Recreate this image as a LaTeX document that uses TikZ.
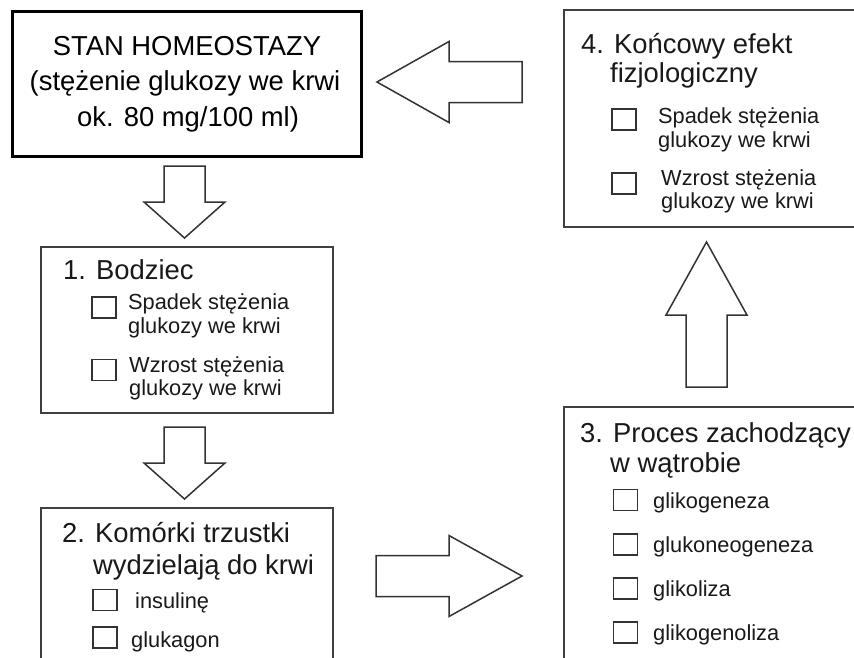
\documentclass[tikz,border=0pt]{standalone}
\usepackage{fontspec}
\setmainfont{Liberation Sans}
\usepackage{tikz}
\usetikzlibrary{calc}

\newcommand{\headfont}{\fontsize{27.4}{29.5}\selectfont}
\newcommand{\itemfont}{\fontsize{21.8}{24}\selectfont}

% fat outlined arrow: tail, tip, head length
\newcommand{\blockarrow}[3]{%
  \coordinate (hb) at ($(#2)!#3!(#1)$);
  \draw[arrowline] ($(#1)!20.5pt!90:(#2)$) -- ($(hb)!20.5pt!90:(#2)$)
    -- ($(hb)!40.5pt!90:(#2)$) -- (#2) -- ($(hb)!40.5pt!-90:(#2)$)
    -- ($(hb)!20.5pt!-90:(#2)$) -- ($(#1)!20.5pt!-90:(#2)$) -- cycle;}

\tikzset{
  mainbox/.style={draw=black,line width=3pt,fill=white,anchor=north west,inner sep=0pt},
  stagebox/.style={draw=black!75,line width=1.5pt,fill=white,anchor=north west,inner sep=0pt},
  tick/.style={draw=black!80,line width=1.3pt,minimum width=24pt,minimum height=21pt,inner sep=0pt},
  arrowline/.style={draw=black!80,line width=1.5pt,fill=white,line join=miter},
  head/.style={font=\headfont,anchor=base west,inner sep=0pt,text=black!90},
  item/.style={font=\itemfont,anchor=base west,inner sep=0pt,text=black!90}
}

\begin{document}
\begin{tikzpicture}[x=1pt,y=-1pt]
  \useasboundingbox (0,0) rectangle (854,657);
  \clip (0,0) rectangle (854,657);
  \fill[white] (0,0) rectangle (854,657);

  % boxes
  \node[mainbox,minimum width=349pt,minimum height=145pt]  (homeo) at (11,10) {};
  \node[stagebox,minimum width=292pt,minimum height=166pt] (stim) at (40,246) {};
  \node[stagebox,minimum width=292pt,minimum height=200pt] (pancr) at (40,507) {};
  \node[stagebox,minimum width=350pt,minimum height=300pt] (liver) at (563,406) {};
  \node[stagebox,minimum width=350pt,minimum height=217pt] (effect) at (563,9) {};

  % homeostasis
  \node[font=\headfont,anchor=base,inner sep=0pt] (h1) at (187,55) {STAN HOMEOSTAZY};
  \node[font=\headfont,anchor=base,inner sep=0pt] (h2) at (185,90.5) {(stężenie glukozy we krwi};
  \node[font=\headfont,anchor=base,inner sep=0pt] (h3) at (188,126) {ok. 80 mg/100 ml)};

  % 1. stimulus
  \node[head] (s0) at (63,279) {1. Bodziec};
  \node[tick] (s1box) at (104,307.5) {};
  \node[item] (s1a) at (128,309) {Spadek stężenia};
  \node[item] (s1b) at (128,333) {glukozy we krwi};
  \node[tick] (s2box) at (104,370) {};
  \node[item] (s2a) at (129,372) {Wzrost stężenia};
  \node[item] (s2b) at (129,395) {glukozy we krwi};

  % 2. pancreas
  \node[head] (p0) at (62,542) {2. Komórki trzustki};
  \node[head] (p0b) at (93,574) {wydzielają do krwi};
  \node[tick] (p1box) at (105,600) {};
  \node[item] (p1) at (135,608) {insulinę};
  \node[tick] (p2box) at (105,637.5) {};
  \node[item] (p2) at (131,647) {glukagon};

  % 3. liver
  \node[head] (l0) at (580,442) {3. Proces zachodzący};
  \node[head] (l0b) at (610,472) {w wątrobie};
  \node[tick] (l1box) at (625.5,500) {};
  \node[item] (l1) at (653,508) {glikogeneza};
  \node[tick] (l2box) at (625.5,544.5) {};
  \node[item] (l2) at (653,552) {glukoneogeneza};
  \node[tick] (l3box) at (625.5,588.5) {};
  \node[item] (l3) at (653,596) {glikoliza};
  \node[tick] (l4box) at (625.5,632.5) {};
  \node[item] (l4) at (653,640) {glikogenoliza};

  % 4. final effect
  \node[head] (e0) at (581,53) {4. Końcowy efekt};
  \node[head] (e0b) at (610,82) {fizjologiczny};
  \node[tick] (e1box) at (624,119.5) {};
  \node[item] (e1a) at (658,123) {Spadek stężenia};
  \node[item] (e1b) at (658,147) {glukozy we krwi};
  \node[tick] (e2box) at (624,183.5) {};
  \node[item] (e2a) at (661,185) {Wzrost stężenia};
  \node[item] (e2b) at (661,208) {glukozy we krwi};

  % arrow ends
  \coordinate (t01) at (184.5,166);  \coordinate (p01) at (184.5,238);
  \coordinate (t12) at (184.5,427);  \coordinate (p12) at (184.5,499);
  \coordinate (t23) at (376,576);    \coordinate (p23) at (522,576);
  \coordinate (t34) at (706.5,387);  \coordinate (p34) at (706.5,242);
  \coordinate (t40) at (522,82);     \coordinate (p40) at (377,82);

  \blockarrow{t01}{p01}{36pt}
  \blockarrow{t12}{p12}{36pt}
  \blockarrow{t23}{p23}{73pt}
  \blockarrow{t34}{p34}{73pt}
  \blockarrow{t40}{p40}{72pt}
\end{tikzpicture}
\end{document}
